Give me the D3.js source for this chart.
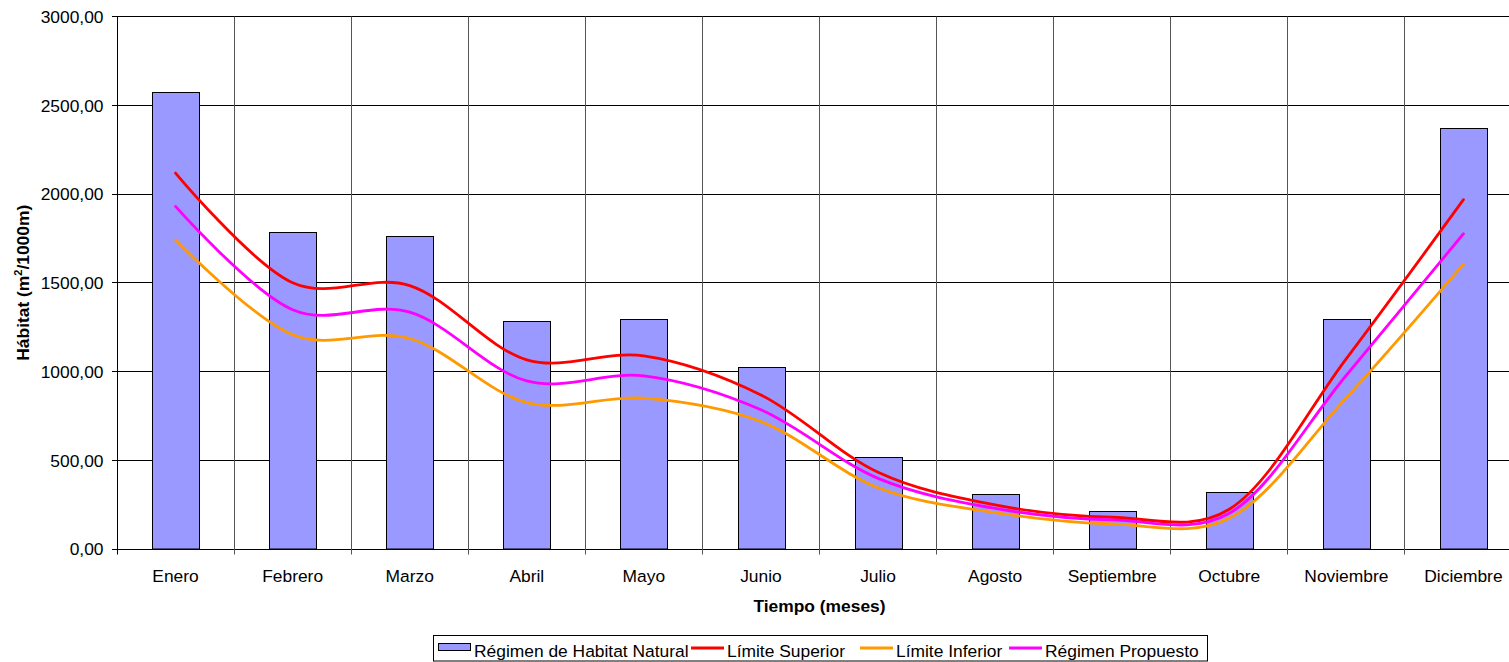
<!DOCTYPE html>
<html>
<head>
<meta charset="utf-8">
<script src="https://cdn.jsdelivr.net/npm/d3@7"></script>
<style>
  html, body { margin: 0; padding: 0; background: #fff; }
  svg { display: block; font-family: "Liberation Sans", Arial, sans-serif; }
</style>
</head>
<body>
<svg id="chart" width="1509" height="662"></svg>
<script>
const months = ["Enero","Febrero","Marzo","Abril","Mayo","Junio","Julio","Agosto","Septiembre","Octubre","Noviembre","Diciembre"];
const habitatNatural = [2573, 1784, 1765, 1286, 1297, 1026, 517, 310, 214, 320, 1297, 2374];
const limiteSuperior = [2118, 1500, 1484, 1066, 1088, 868, 432, 248, 179, 224, 1073, 1968];
const limiteInferior = [1742, 1207, 1186, 825, 850, 718, 345, 205, 141, 173, 853, 1605];
const regimenPropuesto = [1930, 1348, 1334, 947, 975, 784, 398, 229, 164, 201, 979, 1776];
const yTicks = [0, 500, 1000, 1500, 2000, 2500, 3000];
const seriesNames = ["Régimen de Habitat Natural", "Límite Superior", "Límite Inferior", "Régimen Propuesto"];
const seriesColors = ["#9999FF", "#FF0000", "#FF9900", "#FF00FF"];

(function () {
const svg = d3.select("#chart");
const pLeft = 117, pRight = 1522, pTop = 16.5, pBottom = 549;
const fs = 17.4;

const x = d3.scaleBand().domain(months).range([pLeft, pRight]).padding(0);
const y = d3.scaleLinear().domain([0, 3000]).range([pBottom, pTop]);
const bw = x.bandwidth();
const crisp = v => Math.round(v) + 0.5;

// horizontal gridlines
svg.append("g").selectAll("line").data(yTicks).join("line")
  .attr("x1", pLeft - 5).attr("x2", 1509)
  .attr("y1", d => crisp(y(d) - 0.5)).attr("y2", d => crisp(y(d) - 0.5))
  .attr("stroke", "#000").attr("stroke-width", 1);

// vertical gridlines (category boundaries)
const bounds = months.map(m => x(m)).concat([pRight]);
svg.append("g").selectAll("line").data(bounds.slice(1)).join("line")
  .attr("x1", d => crisp(d - 0.5)).attr("x2", d => crisp(d - 0.5))
  .attr("y1", crisp(pTop - 0.5)).attr("y2", crisp(pBottom - 0.5) + 5)
  .attr("stroke", "#555").attr("stroke-width", 1);

// y axis line
svg.append("line")
  .attr("x1", crisp(pLeft - 0.5)).attr("x2", crisp(pLeft - 0.5))
  .attr("y1", crisp(pTop - 0.5)).attr("y2", crisp(pBottom - 0.5) + 5)
  .attr("stroke", "#000");

// y tick labels
svg.append("g").selectAll("text").data(yTicks).join("text")
  .attr("x", 103.5).attr("y", d => y(d) + 6.3)
  .attr("text-anchor", "end").attr("font-size", fs).attr("fill", "#000")
  .text(d => d3.format(".2f")(d).replace(".", ","));

// bars
svg.append("g").selectAll("rect").data(habitatNatural).join("rect")
  .attr("x", (d, i) => Math.round(x(months[i]) + bw * 0.3) + 0.5)
  .attr("width", Math.round(bw * 0.4))
  .attr("y", d => Math.round(y(d)) + 0.5)
  .attr("height", d => Math.round(pBottom) - Math.round(y(d)) - 0.5)
  .attr("fill", seriesColors[0]).attr("stroke", "#000").attr("stroke-width", 1);

// lines
const line = d3.line()
  .x((d, i) => x(months[i]) + bw / 2)
  .y(d => y(d))
  .curve(d3.curveCatmullRom.alpha(0.2));

[[limiteSuperior, seriesColors[1]], [limiteInferior, seriesColors[2]], [regimenPropuesto, seriesColors[3]]]
  .forEach(([data, color]) => {
    svg.append("path").datum(data).attr("d", line)
      .attr("fill", "none").attr("stroke", color).attr("stroke-width", 2.8)
      .attr("stroke-linecap", "round").attr("stroke-linejoin", "round");
  });

// x labels
svg.append("g").selectAll("text").data(months).join("text")
  .attr("x", d => x(d) + bw / 2).attr("y", 581.5)
  .attr("text-anchor", "middle").attr("font-size", fs).attr("fill", "#000")
  .text(d => d);

// axis titles
svg.append("text")
  .attr("x", (pLeft + pRight) / 2).attr("y", 611.5)
  .attr("text-anchor", "middle").attr("font-size", fs).attr("font-weight", "bold")
  .text("Tiempo (meses)");

const yt = svg.append("text")
  .attr("transform", `translate(28.5,${(pTop + pBottom) / 2}) rotate(-90)`)
  .attr("text-anchor", "middle").attr("font-size", fs).attr("font-weight", "bold");
yt.append("tspan").text("Hábitat (m");
yt.append("tspan").attr("font-size", 11).attr("dy", -7).text("2");
yt.append("tspan").attr("dy", 7).text("/1000m)");

// legend
const lg = svg.append("g");
lg.append("rect").attr("x", 433.5).attr("y", 635.5).attr("width", 774).attr("height", 25.5)
  .attr("fill", "#fff").attr("stroke", "#000").attr("stroke-width", 1);
const swatchX = [438, 691, 860, 1009];
seriesNames.forEach((name, i) => {
  const sx = swatchX[i];
  if (i === 0) {
    lg.append("rect").attr("x", sx + 0.5).attr("y", 643.5).attr("width", 32).attr("height", 7)
      .attr("fill", seriesColors[0]).attr("stroke", "#000");
  } else {
    lg.append("line").attr("x1", sx).attr("x2", sx + 33).attr("y1", 648).attr("y2", 648)
      .attr("stroke", seriesColors[i]).attr("stroke-width", 3);
  }
  lg.append("text").attr("x", sx + 36).attr("y", 656.5).attr("font-size", fs).text(name);
});
})();
</script>
</body>
</html>
